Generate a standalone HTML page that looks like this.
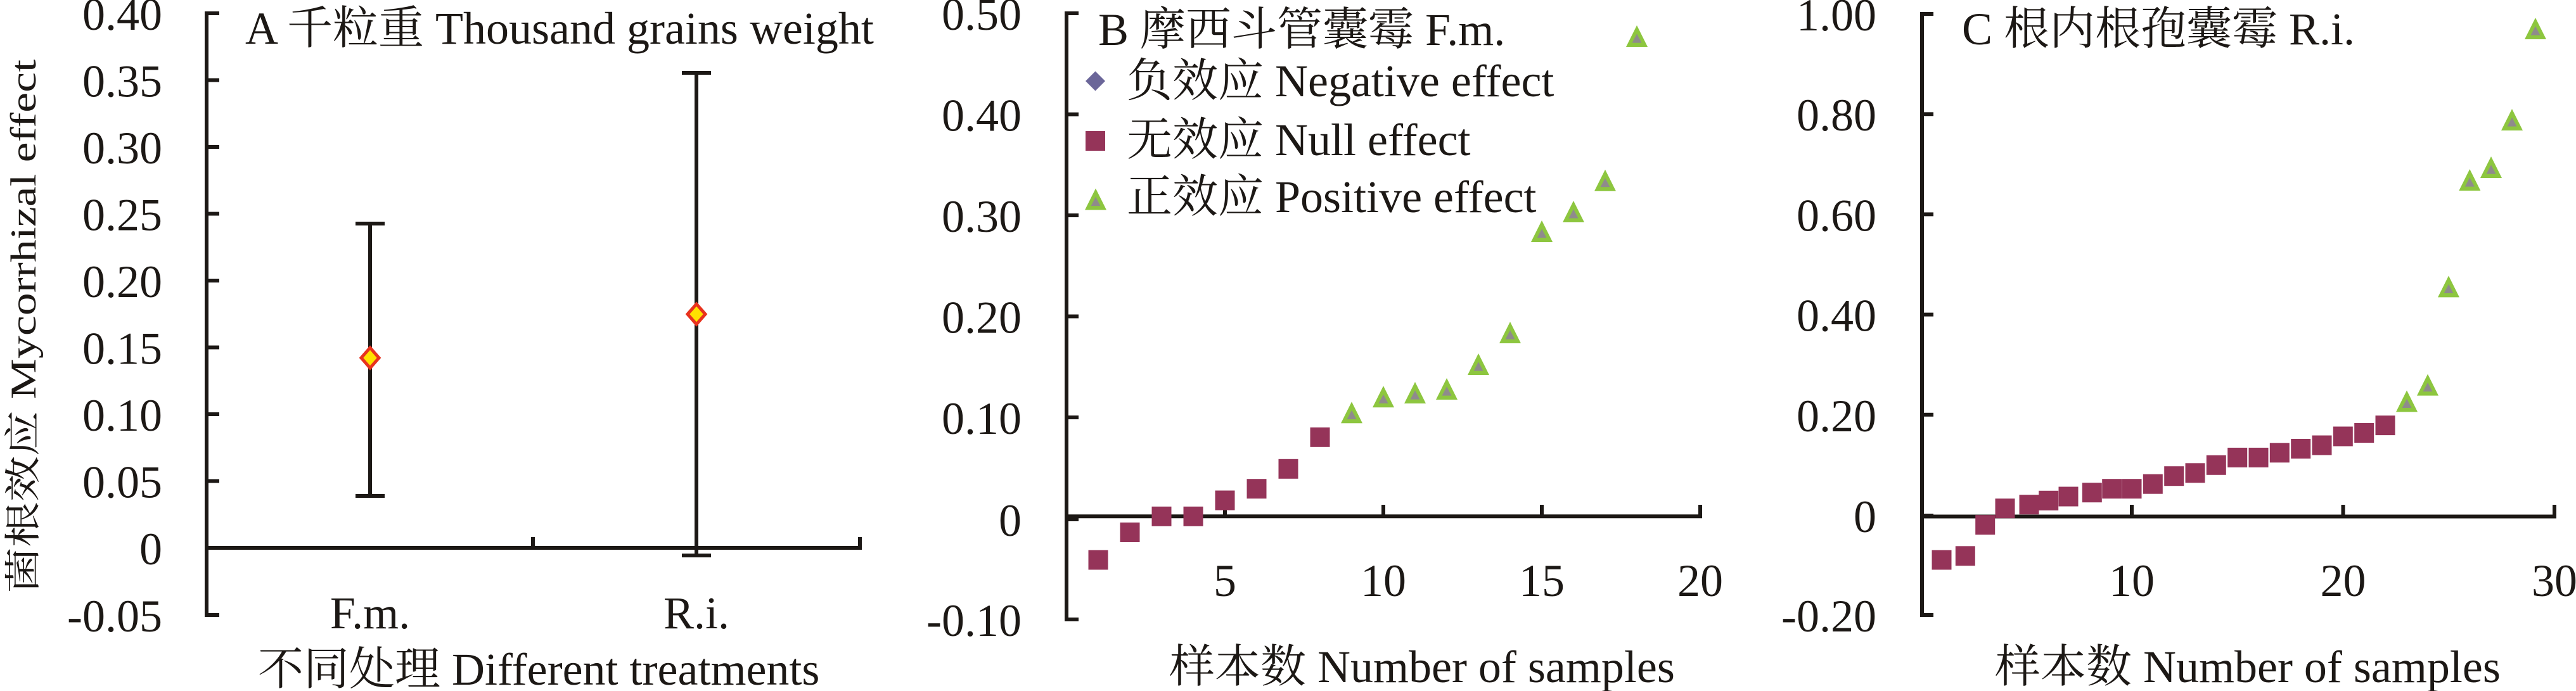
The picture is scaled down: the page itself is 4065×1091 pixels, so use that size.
<!DOCTYPE html>
<html>
<head>
<meta charset="utf-8">
<style>
html,body{margin:0;padding:0;background:#fff;}
svg{display:block;}
text{font-family:"Liberation Serif","Noto Serif CJK SC","Noto Sans CJK SC",serif;font-size:72px;fill:#1c1815;}
</style>
</head>
<body>
<svg width="4065" height="1091" viewBox="0 0 4065 1091" xmlns="http://www.w3.org/2000/svg">
<defs>
  <g id="tri">
    <polygon points="0,-17 17,17 -17,17" fill="#8DC63F"/>
    <polygon points="0,-3.6 7.5,10.6 -7.5,10.6" fill="#8F8B8C"/>
  </g>
  <rect id="sq" x="-15.5" y="-15.5" width="31" height="31" fill="#953459"/>
</defs>

<!-- ================= Panel A ================= -->
<g stroke="#1c1815" stroke-width="6" fill="none">
  <line x1="326" y1="18" x2="326" y2="974"/>
  <line x1="323" y1="21" x2="346" y2="21"/>
  <line x1="323" y1="126.5" x2="346" y2="126.5"/>
  <line x1="323" y1="232" x2="346" y2="232"/>
  <line x1="323" y1="337.5" x2="346" y2="337.5"/>
  <line x1="323" y1="443" x2="346" y2="443"/>
  <line x1="323" y1="548.5" x2="346" y2="548.5"/>
  <line x1="323" y1="654" x2="346" y2="654"/>
  <line x1="323" y1="759.5" x2="346" y2="759.5"/>
  <line x1="323" y1="865" x2="346" y2="865"/>
  <line x1="323" y1="971" x2="346" y2="971"/>
  <line x1="326" y1="865" x2="1360" y2="865"/>
  <line x1="841" y1="848" x2="841" y2="865"/>
  <line x1="1357" y1="848" x2="1357" y2="865"/>
  <!-- error bars -->
  <line x1="584" y1="353" x2="584" y2="783"/>
  <line x1="561" y1="353" x2="607" y2="353"/>
  <line x1="561" y1="783" x2="607" y2="783"/>
  <line x1="1099" y1="115" x2="1099" y2="877"/>
  <line x1="1076" y1="115" x2="1122" y2="115"/>
  <line x1="1076" y1="877" x2="1122" y2="877"/>
</g>
<polygon points="584,549 598,565 584,581 570,565" fill="#FFE000" stroke="#E8321E" stroke-width="5"/>
<polygon points="1099,480 1113,496 1099,512 1085,496" fill="#FFE000" stroke="#E8321E" stroke-width="5"/>

<g text-anchor="end">
  <text x="256" y="47">0.40</text>
  <text x="256" y="152.5">0.35</text>
  <text x="256" y="258">0.30</text>
  <text x="256" y="363.5">0.25</text>
  <text x="256" y="469">0.20</text>
  <text x="256" y="574.5">0.15</text>
  <text x="256" y="680">0.10</text>
  <text x="256" y="785.5">0.05</text>
  <text x="256" y="891">0</text>
  <text x="256" y="997">-0.05</text>
</g>
<text x="584" y="992" text-anchor="middle">F.m.</text>
<text x="1099" y="992" text-anchor="middle">R.i.</text>
<text x="387" y="69">A 千粒重 Thousand grains weight</text>
<text x="407" y="1081">不同处理 Different treatments</text>
<text transform="translate(56,515) rotate(-90) scale(1,0.8)" text-anchor="middle">菌根效应 Mycorrhizal effect</text>

<!-- ================= Panel B ================= -->
<g stroke="#1c1815" stroke-width="6" fill="none">
  <line x1="1683" y1="18" x2="1683" y2="981"/>
  <line x1="1680" y1="21" x2="1702" y2="21"/>
  <line x1="1680" y1="180.5" x2="1702" y2="180.5"/>
  <line x1="1680" y1="340" x2="1702" y2="340"/>
  <line x1="1680" y1="499.5" x2="1702" y2="499.5"/>
  <line x1="1680" y1="659" x2="1702" y2="659"/>
  <line x1="1680" y1="820" x2="1702" y2="820"/>
  <line x1="1680" y1="978" x2="1702" y2="978"/>
  <line x1="1683" y1="815.3" x2="2686" y2="815.3"/>
  <line x1="1933" y1="797" x2="1933" y2="815"/>
  <line x1="2183" y1="797" x2="2183" y2="815"/>
  <line x1="2433" y1="797" x2="2433" y2="815"/>
  <line x1="2683" y1="797" x2="2683" y2="815"/>
</g>
<g text-anchor="end">
  <text x="1612" y="47">0.50</text>
  <text x="1612" y="206.5">0.40</text>
  <text x="1612" y="366">0.30</text>
  <text x="1612" y="525.5">0.20</text>
  <text x="1612" y="685">0.10</text>
  <text x="1612" y="846">0</text>
  <text x="1612" y="1004">-0.10</text>
</g>
<g text-anchor="middle">
  <text x="1933" y="941">5</text>
  <text x="2183" y="941">10</text>
  <text x="2433" y="941">15</text>
  <text x="2683" y="941">20</text>
</g>
<text x="1733" y="71">B 摩西斗管囊霉 F.m.</text>
<text x="1845" y="1077">样本数 Number of samples</text>

<!-- legend -->
<polygon points="1728.5,112.5 1744,128 1728.5,143.5 1713,128" fill="#6B6699"/>
<use href="#sq" x="1728.5" y="222.5"/>
<use href="#tri" x="1729" y="314.5"/>
<text x="1778" y="152">负效应 Negative effect</text>
<text x="1778" y="245">无效应 Null effect</text>
<text x="1778" y="335">正效应 Positive effect</text>

<!-- B data -->
<use href="#sq" x="1733" y="884"/>
<use href="#sq" x="1783" y="840.5"/>
<use href="#sq" x="1833" y="815.3"/>
<use href="#sq" x="1883" y="815.3"/>
<use href="#sq" x="1933" y="790"/>
<use href="#sq" x="1983" y="771.7"/>
<use href="#sq" x="2033" y="740.3"/>
<use href="#sq" x="2083" y="690.3"/>
<use href="#tri" x="2133" y="651.3"/>
<use href="#tri" x="2183" y="626.3"/>
<use href="#tri" x="2233" y="620"/>
<use href="#tri" x="2283" y="614"/>
<use href="#tri" x="2333" y="575"/>
<use href="#tri" x="2383" y="525"/>
<use href="#tri" x="2433" y="365"/>
<use href="#tri" x="2483" y="334"/>
<use href="#tri" x="2533" y="284.7"/>
<use href="#tri" x="2583" y="57"/>

<!-- ================= Panel C ================= -->
<g stroke="#1c1815" stroke-width="6" fill="none">
  <line x1="3033" y1="19" x2="3033" y2="974"/>
  <line x1="3030" y1="22" x2="3051" y2="22"/>
  <line x1="3030" y1="180.2" x2="3051" y2="180.2"/>
  <line x1="3030" y1="338.4" x2="3051" y2="338.4"/>
  <line x1="3030" y1="496.6" x2="3051" y2="496.6"/>
  <line x1="3030" y1="654.8" x2="3051" y2="654.8"/>
  <line x1="3030" y1="814" x2="3051" y2="814"/>
  <line x1="3030" y1="971" x2="3051" y2="971"/>
  <line x1="3033" y1="815.5" x2="4034" y2="815.5"/>
  <line x1="3364" y1="797" x2="3364" y2="815"/>
  <line x1="3697.5" y1="797" x2="3697.5" y2="815"/>
  <line x1="4031" y1="797" x2="4031" y2="815"/>
</g>
<g text-anchor="end">
  <text x="2961" y="48">1.00</text>
  <text x="2961" y="206.2">0.80</text>
  <text x="2961" y="364.4">0.60</text>
  <text x="2961" y="522.6">0.40</text>
  <text x="2961" y="680.8">0.20</text>
  <text x="2961" y="840">0</text>
  <text x="2961" y="997">-0.20</text>
</g>
<g text-anchor="middle">
  <text x="3364" y="941">10</text>
  <text x="3697.5" y="941">20</text>
  <text x="4031" y="941">30</text>
</g>
<text x="3096" y="70">C 根内根孢囊霉 R.i.</text>
<text x="3148" y="1077">样本数 Number of samples</text>

<!-- C data -->
<use href="#sq" x="3064" y="884"/>
<use href="#sq" x="3101.3" y="877.8"/>
<use href="#sq" x="3132.7" y="828.7"/>
<use href="#sq" x="3164" y="802.7"/>
<use href="#sq" x="3202" y="796.7"/>
<use href="#sq" x="3232.7" y="790.3"/>
<use href="#sq" x="3264" y="784"/>
<use href="#sq" x="3301.3" y="777.7"/>
<use href="#sq" x="3332.7" y="771.7"/>
<use href="#sq" x="3364" y="771.7"/>
<use href="#sq" x="3397.3" y="764.2"/>
<use href="#sq" x="3430.7" y="751.7"/>
<use href="#sq" x="3464" y="746.8"/>
<use href="#sq" x="3497.3" y="734.3"/>
<use href="#sq" x="3530.7" y="722.4"/>
<use href="#sq" x="3564" y="722.4"/>
<use href="#sq" x="3597.3" y="714.8"/>
<use href="#sq" x="3630.7" y="708.5"/>
<use href="#sq" x="3664" y="703"/>
<use href="#sq" x="3697.3" y="689"/>
<use href="#sq" x="3730.7" y="683.5"/>
<use href="#sq" x="3764" y="671.6"/>
<use href="#tri" x="3798" y="633.4"/>
<use href="#tri" x="3831" y="607.6"/>
<use href="#tri" x="3864" y="452.4"/>
<use href="#tri" x="3897.3" y="284"/>
<use href="#tri" x="3931" y="264"/>
<use href="#tri" x="3964" y="189"/>
<use href="#tri" x="4001" y="45"/>
</svg>
</body>
</html>
